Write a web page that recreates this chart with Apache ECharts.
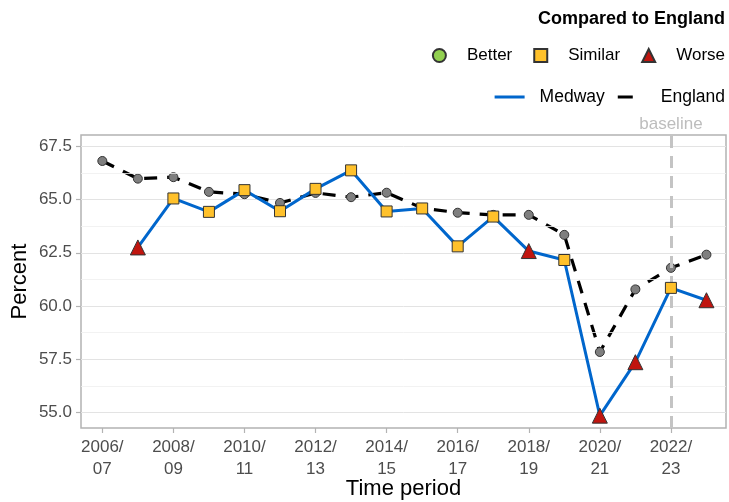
<!DOCTYPE html>
<html>
<head>
<meta charset="utf-8">
<script src="https://cdn.jsdelivr.net/npm/echarts@6/dist/echarts.min.js"></script>
<style>
  html, body { margin: 0; padding: 0; background: #fff; }
  #chart { width: 729px; height: 502px; }
</style>
</head>
<body>
<div id="chart"></div>
<script>
// time periods, one per x position (0..17)
var periods = ['2006/07', '2007/08', '2008/09', '2009/10', '2010/11', '2011/12',
    '2012/13', '2013/14', '2014/15', '2015/16', '2016/17', '2017/18',
    '2018/19', '2019/20', '2020/21', '2021/22', '2022/23', '2023/24'];
var xTickIdx = [0, 2, 4, 6, 8, 10, 12, 14, 16];
var yTicks = [55, 57.5, 60, 62.5, 65, 67.5];
var yMinor = [56.25, 58.75, 61.25, 63.75, 66.25];

// Medway starts at 2007/08
var medwayVals = [null, 62.75, 65.05, 64.42, 65.44, 64.45, 65.5, 66.37, 64.44,
    64.58, 62.8, 64.2, 62.58, 62.16, 54.85, 57.36, 60.85, 60.27];
var medwayCompare = [null, 'Worse', 'Similar', 'Similar', 'Similar', 'Similar', 'Similar',
    'Similar', 'Similar', 'Similar', 'Similar', 'Similar', 'Worse', 'Similar',
    'Worse', 'Worse', 'Similar', 'Worse'];
var englandVals = [66.81, 65.98, 66.05, 65.36, 65.25, 64.84, 65.31, 65.11, 65.32,
    64.6, 64.38, 64.28, 64.28, 63.34, 57.84, 60.78, 61.79, 62.41];
var baselineIdx = 16;

var chart = echarts.init(document.getElementById('chart'));

function pairs(vals) {
    var out = [];
    for (var i = 0; i < vals.length; i++) {
        if (vals[i] != null) out.push([i, vals[i]]);
    }
    return out;
}
function pointsFor(cat) {
    var out = [];
    for (var i = 0; i < medwayVals.length; i++) {
        if (medwayCompare[i] === cat) out.push([i, medwayVals[i]]);
    }
    return out;
}

var axisGrey = '#4d4d4d';
var fontFam = '"Liberation Sans", Arial, sans-serif';

var option = {
    animation: false,
    textStyle: { fontFamily: fontFam },
    title: {
        text: 'Compared to England',
        right: 4, top: 10, padding: 0,
        textStyle: { fontSize: 18, fontWeight: 'bold', color: '#000', fontFamily: fontFam }
    },
    legend: [{
        data: ['Better', 'Similar', 'Worse'],
        right: 4, top: 47, padding: 0,
        itemWidth: 13, itemHeight: 13, itemGap: 21,
        textStyle: { fontSize: 17, color: '#000', padding: [0, 0, 0, 16] }
    }, {
        data: [
            { name: 'Medway', icon: 'path://M0,0L30,0Z M0,1H30V4H0Z M0,5L30,5Z' },
            { name: 'England', icon: 'path://M0,0L30,0Z M2,1H17V4H2Z M0,5L30,5Z' }
        ],
        right: 4, top: 88, padding: 0,
        itemWidth: 30, itemHeight: 5, itemGap: 11,
        textStyle: { fontSize: 17.5, color: '#000', padding: [0, 0, 0, 10] }
    }],
    grid: {
        left: 81, right: 3, top: 135, bottom: 74,
        show: true, borderColor: '#b3b3b3', borderWidth: 1.5,
        containLabel: false,
        outerBoundsMode: 'none'
    },
    xAxis: {
        type: 'value',
        min: -0.6, max: 17.55,
        name: 'Time period',
        nameLocation: 'middle', nameGap: 50, nameMoveOverlap: false,
        nameTextStyle: { fontSize: 22, color: '#000' },
        axisLine: { show: false, onZero: false },
        axisTick: { show: true, customValues: xTickIdx, length: 5, lineStyle: { color: '#b3b3b3', width: 1.2 } },
        axisLabel: {
            customValues: xTickIdx,
            fontSize: 17, color: axisGrey, lineHeight: 22, margin: 8,
            formatter: function (v) { return periods[Math.round(v)].replace('/', '/\n'); }
        },
        splitLine: { show: false }
    },
    yAxis: {
        type: 'value',
        min: 54.27, max: 68.03,
        name: 'Percent',
        nameLocation: 'middle', nameGap: 50, nameRotate: 90, nameMoveOverlap: false,
        nameTextStyle: { fontSize: 22, color: '#000' },
        axisLine: { show: false, onZero: false },
        axisTick: { show: true, customValues: yTicks, length: 5, lineStyle: { color: '#b3b3b3', width: 1.2 } },
        axisLabel: {
            customValues: yTicks, fontSize: 17, color: axisGrey, margin: 9,
            formatter: function (v) { return v.toFixed(1); }
        },
        splitLine: { show: true, lineStyle: { color: '#e3e3e3', width: 1 } }
    },
    series: [{
        name: 'minor',
        type: 'line',
        data: [],
        silent: true,
        markLine: {
            silent: true, symbol: 'none', animation: false,
            label: { show: false },
            lineStyle: { color: '#efefef', width: 0.8, type: 'solid' },
            data: yMinor.map(function (v) { return { yAxis: v }; })
        }
    }, {
        name: 'England',
        type: 'line',
        data: pairs(englandVals),
        symbol: 'none',
        z: 3,
        itemStyle: { color: '#000' },
        lineStyle: { color: '#000', width: 3.2, type: [13, 10] },
        markLine: {
            silent: true, symbol: 'none', animation: false,
            lineStyle: { color: '#c4c4c4', width: 3, type: [12, 8] },
            label: { show: true, position: 'end', formatter: 'baseline', color: '#bdbdbd', fontSize: 17, distance: 2 },
            data: [{ xAxis: baselineIdx }]
        }
    }, {
        name: 'England points',
        type: 'scatter',
        data: pairs(englandVals),
        symbol: 'circle', symbolSize: 9,
        z: 4,
        itemStyle: { color: '#7f7f7f', borderColor: '#333', borderWidth: 1, opacity: 1 }
    }, {
        name: 'Medway',
        type: 'line',
        data: pairs(medwayVals),
        symbol: 'none',
        z: 5,
        itemStyle: { color: '#0066cc' },
        lineStyle: { color: '#0066cc', width: 3 }
    }, {
        name: 'Better',
        type: 'scatter',
        data: pointsFor('Better'),
        symbol: 'circle', symbolSize: 10,
        z: 6,
        itemStyle: { color: '#92d050', borderColor: '#333', borderWidth: 1, opacity: 1 }
    }, {
        name: 'Similar',
        type: 'scatter',
        data: pointsFor('Similar'),
        symbol: 'rect', symbolSize: 11,
        z: 6,
        itemStyle: { color: '#ffc12b', borderColor: '#333', borderWidth: 1, opacity: 1 }
    }, {
        name: 'Worse',
        type: 'scatter',
        data: pointsFor('Worse'),
        symbol: 'triangle', symbolSize: 15,
        z: 6,
        itemStyle: { color: '#c0150f', borderColor: '#333', borderWidth: 1, opacity: 1 }
    }]
};

chart.setOption(option);
</script>
</body>
</html>
